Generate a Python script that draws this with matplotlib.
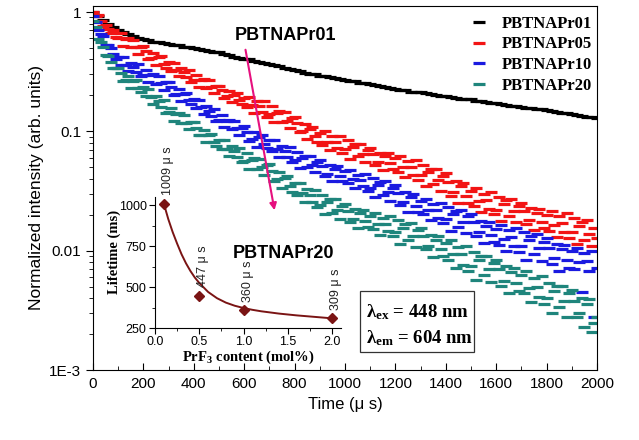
import matplotlib
matplotlib.use("Agg")
import matplotlib.pyplot as plt
from matplotlib.lines import Line2D
from matplotlib.patches import Rectangle
from matplotlib.ticker import MultipleLocator, LogLocator, NullFormatter

plt.rcParams['font.family'] = ['Liberation Sans', 'DejaVu Sans']
plt.rcParams['mathtext.fontset'] = 'custom'
plt.rcParams['mathtext.rm'] = 'Liberation Serif'
plt.rcParams['mathtext.bf'] = 'Liberation Serif:bold'
plt.rcParams['mathtext.it'] = 'Liberation Serif:italic'

# ---------------- data ----------------
time_black = list(range(0, 2001, 20))
time_color = list(range(0, 2001, 10))

pr01 = [1.0, 0.93, 0.86, 0.80, 0.755,
        0.71, 0.68, 0.655, 0.63, 0.61,
        0.59, 0.585, 0.565, 0.56, 0.545,
        0.54, 0.53, 0.525, 0.51, 0.505,
        0.50, 0.49, 0.485, 0.47, 0.465,
        0.46, 0.445, 0.435, 0.42, 0.41,
        0.40, 0.40, 0.385, 0.38, 0.375,
        0.37, 0.36, 0.35, 0.34, 0.33,
        0.325, 0.32, 0.31, 0.305, 0.30,
        0.293, 0.29, 0.283, 0.278, 0.275,
        0.27, 0.265, 0.262, 0.255, 0.252,
        0.25, 0.243, 0.238, 0.236, 0.23,
        0.228, 0.224, 0.22, 0.215, 0.214,
        0.212, 0.21, 0.205, 0.20, 0.199,
        0.197, 0.194, 0.192, 0.188, 0.186,
        0.185, 0.18, 0.179, 0.176, 0.174,
        0.172, 0.17, 0.166, 0.164, 0.162,
        0.16, 0.158, 0.156, 0.153, 0.153,
        0.151, 0.148, 0.146, 0.143, 0.142,
        0.14, 0.137, 0.135, 0.133, 0.131,
        0.129]

pr05 = [1.0, 0.92, 0.94, 0.84, 0.765, 0.78, 0.72, 0.67, 0.70, 0.62,
        0.605, 0.667, 0.523, 0.594, 0.605, 0.506, 0.586, 0.508, 0.448, 0.513,
        0.517, 0.467, 0.406, 0.412, 0.452, 0.362, 0.416, 0.425, 0.368, 0.339,
        0.378, 0.323, 0.376, 0.327, 0.290, 0.339, 0.313, 0.284, 0.329, 0.261,
        0.269, 0.298, 0.235, 0.269, 0.274, 0.231, 0.269, 0.235, 0.208, 0.240,
        0.242, 0.220, 0.192, 0.197, 0.217, 0.175, 0.203, 0.208, 0.182, 0.169,
        0.192, 0.159, 0.195, 0.166, 0.143, 0.178, 0.162, 0.145, 0.178, 0.133,
        0.140, 0.162, 0.119, 0.143, 0.149, 0.119, 0.146, 0.123, 0.106, 0.129,
        0.132, 0.117, 0.098, 0.101, 0.115, 0.086, 0.105, 0.108, 0.091, 0.082,
        0.097, 0.077, 0.100, 0.082, 0.070, 0.091, 0.082, 0.072, 0.092, 0.066,
        0.0705, 0.084, 0.059, 0.074, 0.078, 0.062, 0.078, 0.065, 0.055, 0.070,
        0.073, 0.064, 0.0525, 0.0557, 0.0664, 0.0476, 0.0618, 0.0656, 0.0538, 0.0486,
        0.060, 0.046, 0.0627, 0.0502, 0.0411, 0.0566, 0.0503, 0.0433, 0.058, 0.0392,
        0.0427, 0.0523, 0.0345, 0.0454, 0.0483, 0.036, 0.0483, 0.0388, 0.0317, 0.0419,
        0.0444, 0.0375, 0.0289, 0.031, 0.0383, 0.0249, 0.0346, 0.0368, 0.0286, 0.0249,
        0.0319, 0.0239, 0.0335, 0.0263, 0.021, 0.0301, 0.0264, 0.0224, 0.0309, 0.0201,
        0.0221, 0.028, 0.0178, 0.0245, 0.0264, 0.0194, 0.0271, 0.0215, 0.0173, 0.0239,
        0.0252, 0.0215, 0.0167, 0.0181, 0.0226, 0.0148, 0.0207, 0.0223, 0.0175, 0.0154,
        0.020, 0.0147, 0.0214, 0.0165, 0.013, 0.0194, 0.017, 0.0142, 0.0205, 0.0128,
        0.0144, 0.0187, 0.0113, 0.0161, 0.0175, 0.0124, 0.0179, 0.0139, 0.0109, 0.0155,
        0.0128]

pr10 = [0.93, 0.826, 0.713, 0.657, 0.627, 0.533, 0.528, 0.497, 0.445, 0.407,
        0.42, 0.359, 0.418, 0.363, 0.321, 0.377, 0.346, 0.315, 0.365, 0.289,
        0.298, 0.329, 0.258, 0.294, 0.30, 0.251, 0.292, 0.253, 0.224, 0.257,
        0.259, 0.234, 0.202, 0.205, 0.226, 0.18, 0.207, 0.211, 0.183, 0.168,
        0.187, 0.158, 0.184, 0.159, 0.14, 0.163, 0.148, 0.134, 0.155, 0.122,
        0.125, 0.137, 0.108, 0.123, 0.125, 0.105, 0.122, 0.106, 0.094, 0.107,
        0.111, 0.0985, 0.083, 0.086, 0.098, 0.074, 0.090, 0.094, 0.079, 0.0726,
        0.084, 0.069, 0.085, 0.071, 0.061, 0.075, 0.069, 0.061, 0.074, 0.0556,
        0.0578, 0.0668, 0.0495, 0.0596, 0.0622, 0.0502, 0.0618, 0.0523, 0.0452, 0.055,
        0.0575, 0.0508, 0.042, 0.0442, 0.052, 0.038, 0.0484, 0.0511, 0.0423, 0.0385,
        0.0462, 0.0371, 0.0477, 0.0396, 0.0334, 0.0434, 0.0393, 0.0346, 0.044, 0.0317,
        0.0337, 0.0404, 0.028, 0.0357, 0.0378, 0.0292, 0.038, 0.0312, 0.0261, 0.0335,
        0.0354, 0.0304, 0.024, 0.0255, 0.0309, 0.021, 0.0281, 0.0297, 0.0237, 0.021,
        0.0262, 0.0202, 0.0273, 0.0219, 0.0179, 0.0247, 0.0219, 0.0188, 0.0252, 0.0171,
        0.0184, 0.0232, 0.0147, 0.0201, 0.0217, 0.0158, 0.0221, 0.0174, 0.014, 0.0194,
        0.0204, 0.0174, 0.0134, 0.0144, 0.0178, 0.0116, 0.0162, 0.0173, 0.0135, 0.0118,
        0.0153, 0.0112, 0.0163, 0.0126, 0.0099, 0.0149, 0.013, 0.0109, 0.0155, 0.0098,
        0.0109, 0.0142, 0.0084, 0.0123, 0.0134, 0.0093, 0.0137, 0.0106, 0.0082, 0.0119,
        0.0128, 0.0106, 0.0078, 0.0086, 0.0113, 0.0068, 0.0103, 0.0112, 0.0084, 0.0072,
        0.0099, 0.007, 0.0106, 0.008, 0.0045, 0.0095, 0.0082, 0.0067, 0.010, 0.0028,
        0.0071]

pr20 = [0.836, 0.746, 0.59, 0.557, 0.506, 0.437, 0.428, 0.378, 0.341, 0.338,
        0.341, 0.306, 0.265, 0.268, 0.292, 0.232, 0.265, 0.269, 0.233, 0.213,
        0.236, 0.199, 0.228, 0.195, 0.17, 0.197, 0.179, 0.16, 0.183, 0.142,
        0.144, 0.158, 0.123, 0.14, 0.143, 0.118, 0.137, 0.118, 0.104, 0.119,
        0.119, 0.107, 0.093, 0.094, 0.103, 0.082, 0.094, 0.095, 0.082, 0.075,
        0.0848, 0.0705, 0.0846, 0.0716, 0.0619, 0.0751, 0.0681, 0.0607, 0.0726, 0.055,
        0.0569, 0.0653, 0.0482, 0.058, 0.0601, 0.0483, 0.0592, 0.0499, 0.043, 0.052,
        0.0536, 0.0468, 0.0385, 0.0396, 0.0453, 0.0333, 0.0409, 0.0422, 0.0348, 0.0312,
        0.0366, 0.0291, 0.037, 0.0305, 0.0255, 0.0328, 0.0293, 0.0257, 0.0323, 0.0231,
        0.0243, 0.0292, 0.0201, 0.0256, 0.027, 0.0208, 0.0269, 0.022, 0.0184, 0.0235,
        0.0246, 0.0214, 0.0173, 0.0184, 0.0222, 0.0155, 0.0205, 0.0218, 0.0177, 0.0158,
        0.0196, 0.0152, 0.0207, 0.0166, 0.0136, 0.0188, 0.0168, 0.0145, 0.0195, 0.0132,
        0.0143, 0.0179, 0.0114, 0.0156, 0.0168, 0.0122, 0.0171, 0.0134, 0.0108, 0.0148,
        0.0156, 0.0132, 0.0103, 0.011, 0.0136, 0.0089, 0.0123, 0.0132, 0.0103, 0.009,
        0.0117, 0.0084, 0.0122, 0.0094, 0.0072, 0.0107, 0.0093, 0.0076, 0.0109, 0.0067,
        0.0074, 0.0097, 0.0057, 0.0083, 0.009, 0.0063, 0.0091, 0.007, 0.0055, 0.0079,
        0.0084, 0.007, 0.0051, 0.0056, 0.0074, 0.0044, 0.0066, 0.0072, 0.0054, 0.0046,
        0.0063, 0.0044, 0.0068, 0.0049, 0.0037, 0.0059, 0.005, 0.0041, 0.0061, 0.0036,
        0.004, 0.0054, 0.003, 0.0046, 0.0051, 0.0034, 0.0051, 0.0038, 0.0028, 0.0044,
        0.0047, 0.0038, 0.0028, 0.003, 0.004, 0.0023, 0.0036, 0.0039, 0.0021, 0.0025,
        0.0028]

series_labels = ["PBTNAPr01", "PBTNAPr05", "PBTNAPr10", "PBTNAPr20"]
series_colors = ["#000000", "#f21414", "#1a1ae0", "#1f857c"]

# inset data
prf3_content = [0.1, 0.5, 1.0, 2.0]
lifetime = [1009, 447, 360, 309]
lifetime_labels = ["1009 μ s", "447 μ s", "360 μ s", "309 μ s"]
fit_x = [0.1, 0.15, 0.2, 0.25, 0.3, 0.35, 0.4, 0.45, 0.5, 0.6, 0.7, 0.8, 0.9, 1.0,
         1.1, 1.2, 1.4, 1.6, 1.8, 2.0]
fit_y = [1009, 915, 835, 765, 700, 645, 598, 558, 525, 470, 432, 405, 386, 372,
         361, 352, 338, 327, 318, 309]

# ---------------- figure ----------------
fig = plt.figure(figsize=(6.39, 4.40), dpi=100)
W, H = 639, 440
ax = fig.add_axes([93 / W, (H - 370) / H, (597 - 93) / W, (370 - 6) / H])

all_t = [time_black, time_color, time_color, time_color]
all_v = [pr01, pr05, pr10, pr20]
for t, v, c in zip(all_t, all_v, series_colors):
    ax.plot(t, v, linestyle='none', marker='_', markersize=9,
            markeredgewidth=2.3, color=c)

ax.set_yscale('log')
ax.set_ylim(1e-3, 1.123)
ax.set_xlim(0, 2000)
ax.set_yticks([1e-3, 1e-2, 1e-1, 1], ["1E-3", "0.01", "0.1", "1"])
ax.yaxis.set_minor_locator(LogLocator(base=10, subs=[2, 3, 4, 5, 6, 7, 8, 9]))
ax.yaxis.set_minor_formatter(NullFormatter())
ax.xaxis.set_major_locator(MultipleLocator(200))
ax.xaxis.set_minor_locator(MultipleLocator(100))
ax.tick_params(axis='x', which='both', direction='in', labelsize=11, pad=5)
ax.tick_params(axis='x', which='major', length=5)
ax.tick_params(axis='x', which='minor', length=3)
ax.tick_params(axis='y', which='both', direction='out', labelsize=11)
ax.tick_params(axis='y', which='major', length=5)
ax.tick_params(axis='y', which='minor', length=3)
ax.set_xlabel("Time (μ s)", fontsize=12)
ax.set_ylabel("Normalized intensity (arb. units)", fontsize=12.5)

handles = [Line2D([], [], linestyle='none', marker='_', markersize=9,
                  markeredgewidth=2.3, color=c) for c in series_colors]
fig.legend(handles, series_labels, loc='upper left', frameon=False,
           prop={'family': 'Liberation Serif', 'weight': 'bold', 'size': 12},
           handlelength=1.0, handletextpad=0.85, labelspacing=0.27,
           borderaxespad=0.0, borderpad=0.0,
           bbox_to_anchor=(471 / W, 1 - 16 / H), bbox_transform=fig.transFigure)

# labels and arrow
fig.text(285 / W, 1 - 35 / H, "PBTNAPr01", ha='center', va='center',
         fontsize=13, fontweight='bold')
fig.text(284 / W, 1 - 254 / H, "PBTNAPr20", ha='center', va='center',
         fontsize=13, fontweight='bold')
ax.annotate("", xy=(275 / W, 1 - 213 / H), xycoords='figure fraction',
            xytext=(245 / W, 1 - 47 / H), textcoords='figure fraction',
            arrowprops=dict(arrowstyle='-|>', color='#e6107e', lw=1.5,
                            mutation_scale=10))

# excitation / emission box
fig.patches.append(Rectangle((360 / W, 1 - 352 / H), (474 - 360) / W, (352 - 291) / H,
                             transform=fig.transFigure, facecolor='white',
                             edgecolor='#333333', lw=0.9, zorder=3))
fig.text(366 / W, 1 - 312 / H, r"λ$_{\mathbf{ex}}$ = 448 nm", ha='left', va='center',
         fontsize=13.5, fontweight='bold', family='Liberation Serif', zorder=4)
fig.text(366 / W, 1 - 338 / H, r"λ$_{\mathbf{em}}$ = 604 nm", ha='left', va='center',
         fontsize=13.5, fontweight='bold', family='Liberation Serif', zorder=4)

# inset
axi = fig.add_axes([155 / W, (H - 328) / H, (341 - 155) / W, (328 - 197) / H])
axi.set_facecolor('none')
axi.plot(fit_x, fit_y, color='#7a1414', lw=1.4)
axi.plot(prf3_content, lifetime, linestyle='none', marker='D', markersize=5.5,
         color='#7a1414')
for xv, yv, lab in zip(prf3_content, lifetime, lifetime_labels):
    axi.annotate(lab, xy=(xv, yv), xytext=(3, 6), textcoords='offset points',
                 rotation=90, ha='center', va='bottom', fontsize=9, color='#222222')
axi.set_xlim(0, 2.1)
axi.set_ylim(250, 1050)
axi.spines['top'].set_visible(False)
axi.spines['right'].set_visible(False)
axi.xaxis.set_minor_locator(MultipleLocator(0.25))
axi.yaxis.set_minor_locator(MultipleLocator(125))
axi.set_xticks([0.0, 0.5, 1.0, 1.5, 2.0], ["0.0", "0.5", "1.0", "1.5", "2.0"])
axi.set_yticks([250, 500, 750, 1000], ["250", "500", "750", "1000"])
axi.tick_params(which='both', direction='out', labelsize=9, pad=2)
axi.tick_params(which='major', length=4)
axi.tick_params(which='minor', length=2)
axi.set_xlabel(r"PrF$_{\mathbf{3}}$ content (mol%)", fontsize=10.5, fontweight='bold',
               family='Liberation Serif', labelpad=0)
axi.set_ylabel("Lifetime (ms)", fontsize=10.5, fontweight='bold',
               family='Liberation Serif')
axi.yaxis.set_label_coords(-0.185, 0.58)

fig.savefig("out.png", dpi=100)
